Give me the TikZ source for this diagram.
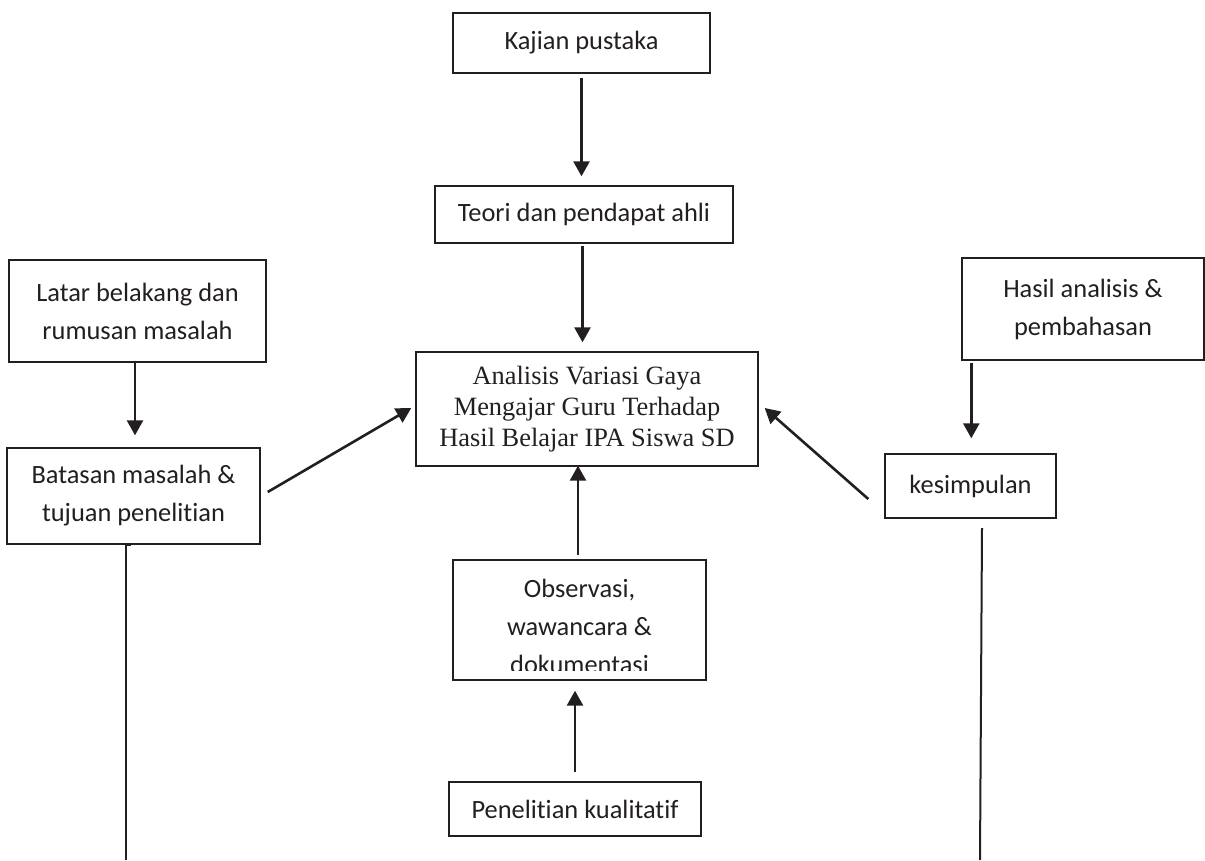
\documentclass[tikz,border=0pt]{standalone}
\usepackage{fontspec}
\setmainfont{Carlito}[Ligatures={NoCommon,NoContextual,NoRare},Contextuals=NoAlternate]
\newfontfamily\serifcenter{Liberation Serif}
\usetikzlibrary{arrows.meta}
\definecolor{ink}{HTML}{231F20}
\begin{document}
\begin{tikzpicture}[x=1pt,y=-1pt,
  box/.style={draw=ink,line width=1.4pt,inner sep=0pt,align=center,text=ink,
    font=\fontsize{26.4}{38}\selectfont},
  arr/.style={draw=ink,line width=2.6pt,-{Triangle[length=15pt,width=16pt]}},
  plain/.style={draw=ink,line width=2pt}]
\fill[white] (0,0) rectangle (1205,860);
\useasboundingbox (0,0) rectangle (1205,860);

\node[box,minimum width=257pt,minimum height=60pt] (kajian) at (581.5,43) {Kajian pustaka};
\node[box,minimum width=298pt,minimum height=57pt] (teori) at (584,214.5) {Teori dan pendapat ahli};
\node[box,minimum width=257pt,minimum height=102pt] (latar) at (137.5,311) {Latar belakang dan\\rumusan masalah};
\node[box,minimum width=253pt,minimum height=96pt] (batasan) at (133.5,496) {Batasan masalah \&\\tujuan penelitian};
\node[box,minimum width=342pt,minimum height=114pt,font=\serifcenter\fontsize{26.4}{31}\selectfont] (center) at (587,409)
  {Analisis Variasi Gaya\\Mengajar Guru Terhadap\\Hasil Belajar IPA Siswa SD};
\node[box,minimum width=242pt,minimum height=102pt] (hasil) at (1083,309) {Hasil analisis \&\\pembahasan};
\node[box,minimum width=171pt,minimum height=64pt] (kes) at (970.5,486) {kesimpulan};
\node[box,minimum width=253pt,minimum height=120pt] (obs) at (579.5,620) {};
\begin{scope}
  \clip (453,560) rectangle (706,670);
  \node[box,draw=none,anchor=north] (obstext) at (579.5,578) {Observasi,\\wawancara \&\\dokumentasi};
\end{scope}
\node[box,minimum width=252pt,minimum height=54pt] (pen) at (575,809) {Penelitian kualitatif};

\draw[arr,shorten <=4pt,shorten >=9pt] (kajian.south) -- (kajian.south |- teori.north);
\draw[arr,shorten <=2pt,shorten >=9pt] ([xshift=-1.5pt]teori.south) -- ([xshift=-1.5pt]teori.south |- center.north);
\draw[arr,shorten <=-2pt,shorten >=12pt] ([xshift=-2.5pt]latar.south) -- ([xshift=-2.5pt]latar.south |- batasan.north);
\draw[arr] ([xshift=7pt,yshift=4pt]batasan.east) -- ([xshift=-4pt,yshift=1pt]center.west);
\draw[arr] ([xshift=-16pt,yshift=-13pt]kes.west) -- ([xshift=6pt,yshift=1pt]center.east);
\draw[arr,shorten <=2pt,shorten >=15pt] ([xshift=10pt]hasil.south west) -- ([xshift=10pt]hasil.south west |- kes.north);
\draw[arr,shorten <=4pt,shorten >=-1pt] ([xshift=-1.5pt]obs.north) -- ([xshift=-1.5pt]obs.north |- center.south);
\draw[arr,shorten <=9pt,shorten >=10pt] (pen.north) -- (pen.north |- obs.south);

\coordinate (ltop) at (126,545);
\coordinate (lbot) at (126,860);
\coordinate (rtop) at (982,528);
\coordinate (rbot) at (980,860);
\draw[plain,line width=1.7pt] ([xshift=5pt]ltop) -- (ltop) -- (lbot);
\draw[plain] (rtop) -- (rbot);
\end{tikzpicture}
\end{document}
